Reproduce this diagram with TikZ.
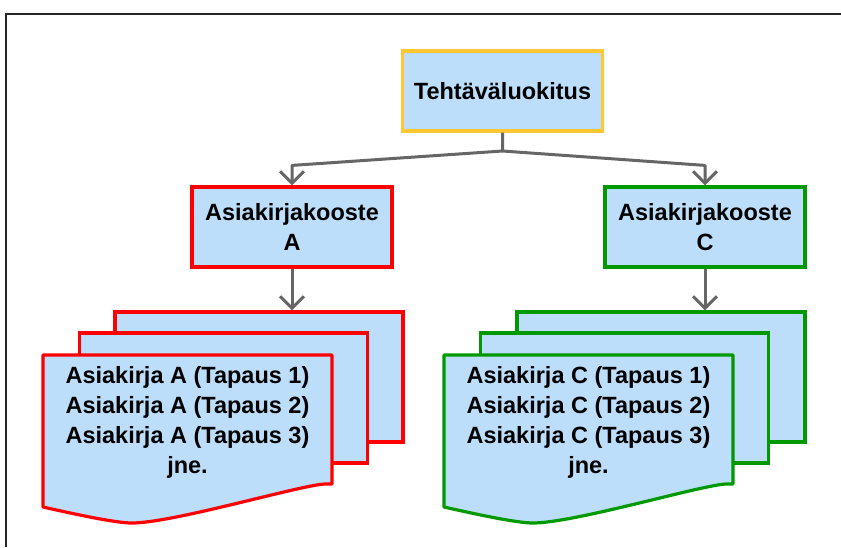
\documentclass[tikz,border=0pt]{standalone}
\usepackage{fontspec}
\setmainfont{Liberation Sans}
\usepackage{tikz}
\usetikzlibrary{arrows.meta,calc}
\definecolor{boxfill}{RGB}{189,222,251}
\definecolor{topline}{RGB}{255,200,50}
\definecolor{grline}{RGB}{0,153,0}
\definecolor{conngray}{RGB}{102,102,102}

\begin{document}
\begin{tikzpicture}[x=0.5pt,y=-0.5pt,
  box/.style={draw,fill=boxfill,line width=1.6pt,minimum width=100pt,minimum height=40pt,
    inner sep=0pt,align=center,font=\bfseries\fontsize{11.75}{15}\selectfont},
  page/.style={draw,fill=boxfill,line width=1.6pt,minimum width=144pt,minimum height=65pt,inner sep=0pt},
  doctext/.style={align=center,inner sep=0pt,font=\bfseries\fontsize{11.75}{15}\selectfont},
  conn/.style={draw=conngray,line width=1.5pt,line join=round,-{Straight Barb[length=6pt,width=12pt]}}]
\useasboundingbox (0,0) rectangle (841,547);
\draw[line width=1.2pt,black!85] (6,547) -- (6,14) -- (841,14);

% ylin taso
\node[box,draw=topline] (luokitus) at (502.5,91) {Tehtäväluokitus};
\node[box,draw=red] (koosteA) at (292,227) {Asiakirjakooste\\A};
\node[box,draw=grline] (koosteC) at (705,227) {Asiakirjakooste\\C};

% asiakirjat A
\node[page,draw=red] (sivuA3) at (259,377) {};
\node[page,draw=red] (sivuA2) at (223.5,398) {};
\filldraw[draw=red,fill=boxfill,line width=1.6pt,line join=round]
  (43,355) -- (332,355) -- (332,484) -- (325,484) .. controls (300,485) and (170,524) .. (130,523)
  .. controls (110,522) and (70,513) .. (43,507) -- cycle;
\node[doctext] (sivuA1) at (187.5,422) {Asiakirja A (Tapaus 1)\\Asiakirja A (Tapaus 2)\\Asiakirja A (Tapaus 3)\\jne.};

% asiakirjat C
\node[page,draw=grline] (sivuC3) at (661,377) {};
\node[page,draw=grline] (sivuC2) at (624.5,398) {};
\filldraw[draw=grline,fill=boxfill,line width=1.6pt,line join=round]
  (444,355) -- (733,355) -- (733,484) -- (726,484) .. controls (701,485) and (571,524) .. (531,523)
  .. controls (511,522) and (471,513) .. (444,507) -- cycle;
\node[doctext] (sivuC1) at (588.5,422) {Asiakirja C (Tapaus 1)\\Asiakirja C (Tapaus 2)\\Asiakirja C (Tapaus 3)\\jne.};

% yhteydet
\coordinate (haara) at (502.5,151);
\draw[conn] (luokitus.south) -- (haara) -- ($(koosteA.north)+(0,-20)$) -- (koosteA.north);
\draw[conn] (haara) -- ($(koosteC.north)+(0,-20)$) -- (koosteC.north);
\draw[conn] (koosteA.south) -- (koosteA.south |- sivuA3.north);
\draw[conn] (koosteC.south) -- (koosteC.south |- sivuC3.north);
\end{tikzpicture}
\end{document}
